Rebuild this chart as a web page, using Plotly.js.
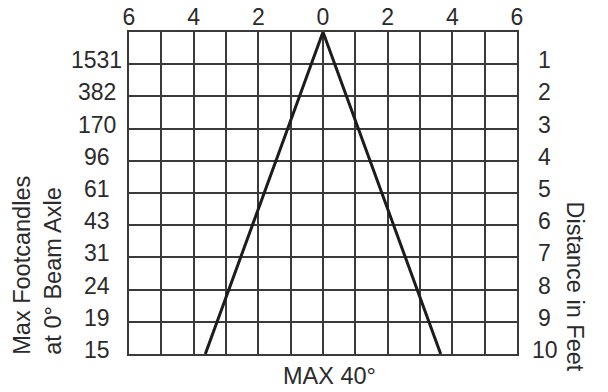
<!DOCTYPE html>
<html>
<head>
<meta charset="utf-8">
<script src="https://cdn.plot.ly/plotly-3.0.1.min.js"></script>
<style>
  html, body { margin: 0; padding: 0; background: #fff; }
  #beamChart { width: 608px; height: 392px; }
</style>
</head>
<body>
<div id="beamChart"></div>
<script>
// Beam spread chart values
const distanceFeet = [1, 2, 3, 4, 5, 6, 7, 8, 9, 10];
const maxFootcandles = [1531, 382, 170, 96, 61, 43, 31, 24, 19, 15];
const widthTicks = [-6, -4, -2, 0, 2, 4, 6];
const widthTickText = ['6', '4', '2', '0', '2', '4', '6'];
const beamX = [-3.64, 0, 3.64];
const beamY = [10, 0, 10];

const FONT = '"Liberation Sans", Arial, sans-serif';
const INK = '#2b2b2b';
const GRID = '#3a3a3a';

const traces = [{
    type: 'scatter',
    mode: 'lines',
    x: beamX,
    y: beamY,
    line: { color: '#1c1c1c', width: 3 },
    hoverinfo: 'skip',
    showlegend: false
}];

// left column: footcandles, right column: distance
const annotations = [];
distanceFeet.forEach((d, i) => {
    annotations.push({
        xref: 'paper', yref: 'y', x: -0.0825, y: d, yshift: 4,
        text: String(maxFootcandles[i]), showarrow: false,
        xanchor: 'center', yanchor: 'middle',
        font: { family: FONT, size: 23, color: INK }
    });
    annotations.push({
        xref: 'paper', yref: 'y', x: 1.072, y: d, yshift: 4,
        text: String(d), showarrow: false,
        xanchor: 'center', yanchor: 'middle',
        font: { family: FONT, size: 23, color: INK }
    });
});

annotations.push({
    xref: 'paper', yref: 'paper', x: -0.2345, y: -0.01,
    text: 'Max Footcandles<br>at 0° Beam Axle', showarrow: false,
    textangle: -90, align: 'left',
    xanchor: 'center', yanchor: 'bottom',
    font: { family: FONT, size: 23.5, color: INK }
});
annotations.push({
    xref: 'paper', yref: 'paper', x: 1.1495, y: 0.2096,
    text: 'Distance in Feet', showarrow: false,
    textangle: 90,
    xanchor: 'center', yanchor: 'middle',
    font: { family: FONT, size: 23.5, color: INK }
});
annotations.push({
    xref: 'paper', yref: 'paper', x: 0.518, y: -0.068,
    text: 'MAX 40°', showarrow: false,
    xanchor: 'center', yanchor: 'middle',
    font: { family: FONT, size: 23.5, color: INK }
});

const layout = {
    width: 608,
    height: 392,
    margin: { l: 129, r: 91, t: 32, b: 38, pad: 0 },
    paper_bgcolor: '#ffffff',
    plot_bgcolor: '#ffffff',
    showlegend: false,
    xaxis: {
        range: [-6, 6],
        side: 'top',
        tickmode: 'array',
        tickvals: widthTicks,
        ticktext: widthTickText,
        ticks: '',
        ticklabelstandoff: -4,
        tickfont: { family: FONT, size: 23, color: INK },
        showgrid: true,
        gridcolor: GRID,
        gridwidth: 2,
        minor: { tickmode: 'linear', tick0: 0, dtick: 1, showgrid: true, gridcolor: GRID, gridwidth: 2, ticks: '' },
        zeroline: false,
        showline: true,
        mirror: true,
        linecolor: GRID,
        linewidth: 2,
        fixedrange: true
    },
    yaxis: {
        range: [10, 0],
        tickmode: 'linear',
        tick0: 0,
        dtick: 1,
        showticklabels: false,
        ticks: '',
        showgrid: true,
        gridcolor: GRID,
        gridwidth: 2,
        zeroline: false,
        showline: true,
        mirror: true,
        linecolor: GRID,
        linewidth: 2,
        fixedrange: true
    },
    annotations: annotations
};

Plotly.newPlot('beamChart', traces, layout, { displayModeBar: false, staticPlot: true });
</script>
</body>
</html>
